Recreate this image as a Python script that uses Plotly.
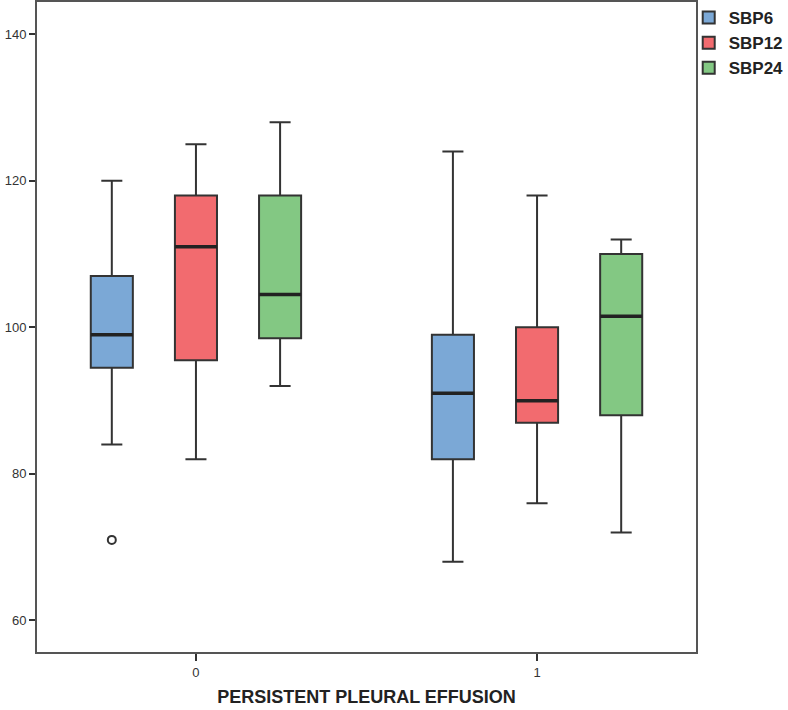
import plotly.graph_objects as go

categories = ["0", "1"]
series_names = ["SBP6", "SBP12", "SBP24"]
series_colors = ["#7BA8D6", "#F26B6F", "#83C883"]

lower_whisker = {"SBP6": [84, 68], "SBP12": [82, 76], "SBP24": [92, 72]}
q1_values = {"SBP6": [94.5, 82], "SBP12": [95.5, 87], "SBP24": [98.5, 88]}
median_values = {"SBP6": [99, 91], "SBP12": [111, 90], "SBP24": [104.5, 101.5]}
q3_values = {"SBP6": [107, 99], "SBP12": [118, 100], "SBP24": [118, 110]}
upper_whisker = {"SBP6": [120, 124], "SBP12": [125, 118], "SBP24": [128, 112]}
outliers = {"SBP6": [[71], []], "SBP12": None, "SBP24": None}

y_ticks = [60, 80, 100, 120, 140]

fig = go.Figure()
for name, color in zip(series_names, series_colors):
    kwargs = {}
    if outliers[name] is not None:
        kwargs["y"] = outliers[name]
    fig.add_trace(go.Box(
        name=name,
        x=categories,
        q1=q1_values[name],
        median=median_values[name],
        q3=q3_values[name],
        lowerfence=lower_whisker[name],
        upperfence=upper_whisker[name],
        boxpoints="outliers",
        pointpos=0,
        jitter=0,
        fillcolor=color,
        line=dict(color="#333333", width=2),
        whiskerwidth=0.5,
        offsetgroup=name,
        marker=dict(symbol="circle-open", color="#333333", size=8,
                    line=dict(width=2, color="#333333"),
                    outliercolor="#333333"),
        hoverinfo="skip",
        **kwargs,
    ))

# thicker median lines (zero-height boxes at the median, same offset group)
for name in series_names:
    fig.add_trace(go.Box(
        name=name,
        x=categories,
        q1=median_values[name],
        median=median_values[name],
        q3=median_values[name],
        lowerfence=median_values[name],
        upperfence=median_values[name],
        boxpoints=False,
        fillcolor="rgba(0,0,0,0)",
        line=dict(color="#222222", width=3.5),
        whiskerwidth=0,
        offsetgroup=name,
        showlegend=False,
        hoverinfo="skip",
    ))

fig.update_layout(
    width=788, height=710,
    boxmode="group",
    boxgap=0.26,
    boxgroupgap=0.5,
    plot_bgcolor="white",
    paper_bgcolor="white",
    margin=dict(l=37, r=92, t=2, b=58, autoexpand=False),
    font=dict(family="Liberation Sans, Arial, sans-serif", color="#333333", size=12),
    showlegend=True,
    legend=dict(
        xref="container", yref="container",
        x=0.874, xanchor="left", y=1.0, yanchor="top",
        bgcolor="rgba(0,0,0,0)",
        font=dict(size=17, weight="bold", color="#222222"),
        tracegroupgap=0,
        itemwidth=30,
    ),
    xaxis=dict(
        type="category",
        range=[-0.466, 1.466],
        showgrid=False, zeroline=False,
        showline=True, linecolor="#555555", linewidth=2, mirror=True,
        ticks="outside", ticklen=7, tickwidth=2, tickcolor="#333333",
        tickfont=dict(size=13, color="#333333"),
        title=dict(text="PERSISTENT PLEURAL EFFUSION",
                   font=dict(size=18, weight="bold", color="#222222"),
                   standoff=12),
        automargin=False,
    ),
    yaxis=dict(
        range=[55.7, 144.4],
        tickvals=y_ticks,
        showgrid=False, zeroline=False,
        showline=True, linecolor="#555555", linewidth=2, mirror=True,
        ticks="outside", ticklen=6, tickwidth=2, tickcolor="#333333",
        tickfont=dict(size=13, color="#333333"),
        automargin=False,
    ),
)

fig.write_html("out.html", config={"displayModeBar": False},
               post_script="document.body.style.margin='0';")
